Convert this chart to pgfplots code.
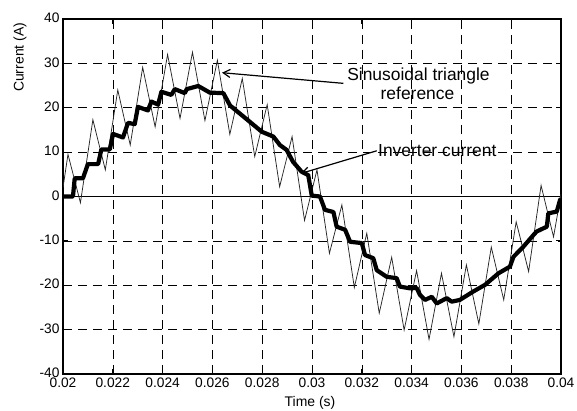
\documentclass[border=0pt]{standalone}
\usepackage{pgfplots}
\pgfplotsset{compat=1.18}
\usepackage{fontspec}
\setmainfont{Liberation Sans}
\usetikzlibrary{arrows.meta}
\begin{document}
\begin{tikzpicture}
\begin{axis}[
  at={(63bp,37bp)}, anchor=south west,
  scale only axis, width=498bp, height=355bp,
  xmin=0.02, xmax=0.04, ymin=-40, ymax=40,
  xtick={0.02,0.022,0.024,0.026,0.028,0.03,0.032,0.034,0.036,0.038,0.04},
  xticklabels={0.02,0.022,0.024,0.026,0.028,0.03,0.032,0.034,0.036,0.038,0.04},
  scaled x ticks=false,
  ytick={-40,-30,-20,-10,0,10,20,30,40},
  tick align=inside, major tick length=5bp,
  grid=major,
  major grid style={black, line width=0.6bp, dash pattern=on 9bp off 6bp},
  axis line style={line width=1.2bp},
  tick style={black, line width=0.8bp},
  tick label style={font=\fontsize{13.8}{16}\selectfont},
  yticklabel style={yshift=1bp},
  /pgf/number format/assume math mode=true,
  xlabel={Time (s)}, ylabel={Current (A)},
  label style={font=\fontsize{14}{16}\selectfont},
  xlabel style={at={(axis description cs:0.496,-0.0817)}, anchor=center},
  ylabel style={at={(axis description cs:-0.0863,0.892)}, anchor=center},
]
% zero line
\addplot[black, line width=1.2bp] coordinates {(0.02,0) (0.04,0)};
% sinusoidal triangle reference
\addplot[black!85, line width=0.75bp] coordinates {
(0.0200,2.0)
(0.0202,9.5) (0.0207,-1.4)
(0.0212,17.3) (0.0217,6.0)
(0.0222,24.0) (0.0227,11.6)
(0.0232,29.1) (0.0237,15.7)
(0.0242,32.0) (0.0247,17.6)
(0.0252,32.5) (0.0257,17.1)
(0.0262,30.7) (0.0267,14.0)
(0.0272,26.6) (0.0277,9.0)
(0.0282,20.7) (0.0287,2.2)
(0.0292,13.5) (0.0297,-5.4)
(0.0302,6.0) (0.0307,-12.8)
(0.0312,-1.9) (0.0317,-20.5)
(0.0322,-8.3) (0.0327,-26.3)
(0.0332,-13.7) (0.0337,-30.1)
(0.0342,-16.7) (0.0347,-32.2)
(0.0352,-17.3) (0.0357,-31.6)
(0.0362,-15.4) (0.0367,-28.7)
(0.0372,-11.4) (0.0377,-23.3)
(0.0382,-5.7) (0.0387,-16.9)
(0.0392,2.5) (0.0397,-9.1)
(0.0400,0.5)
};
% inverter current
\addplot[black, line width=4.2bp, line join=round] coordinates {
(0.02000,0) (0.02040,0) (0.02047,4.1) (0.02080,4.1)
(0.02100,7.3) (0.02141,7.3) (0.02154,10.6) (0.02188,10.6)
(0.02201,14.1) (0.02241,13.3) (0.02261,16.6) (0.02288,16.3)
(0.02301,20.2) (0.02341,19.4) (0.02355,21.4) (0.02382,20.7)
(0.02395,23.6) (0.02435,22.9) (0.02449,24.2) (0.02489,23.3)
(0.02497,24.2) (0.02543,24.9) (0.02590,23.4) (0.02644,23.3)
(0.02671,20.5) (0.02738,17.4) (0.02798,14.6) (0.02845,13.5)
(0.02871,11.6) (0.02898,10.5) (0.02924,7.8) (0.02958,5.6)
(0.02985,4.8) (0.02999,0.2) (0.03032,0) (0.03052,-3.0)
(0.03086,-3.5) (0.03099,-6.8) (0.03133,-7.5) (0.03153,-10.2)
(0.03200,-10.5) (0.03213,-13.2) (0.03246,-13.9) (0.03260,-16.6)
(0.03300,-18.1) (0.03340,-18.4) (0.03353,-20.3) (0.03394,-20.7)
(0.03420,-20.6) (0.03434,-22.2) (0.03454,-23.3) (0.03481,-22.6)
(0.03501,-24.1) (0.03541,-22.9) (0.03561,-23.7) (0.03594,-23.3)
(0.03648,-21.4) (0.03695,-19.9) (0.03749,-17.3) (0.03795,-15.8)
(0.03809,-13.6) (0.03849,-11.3) (0.03889,-8.7) (0.03902,-7.9)
(0.03943,-6.8) (0.03949,-3.8) (0.03983,-3.4) (0.03996,-0.8)
(0.04000,-0.5)
};
% annotations
\node[anchor=base, inner sep=0pt, font=\fontsize{17.5}{20}\selectfont] at (axis cs:0.034277,26.25) {Sinusoidal triangle};
\node[anchor=base, inner sep=0pt, font=\fontsize{17.5}{20}\selectfont] at (axis cs:0.034237,21.9) {reference};
\node[anchor=base west, inner sep=0pt, font=\fontsize{17.5}{20}\selectfont] at (axis cs:0.03265,8.97) {Inverter current};
\draw[line width=1.2bp, -{Straight Barb[length=7bp,width=8bp]}] (axis cs:0.031257,25.5) -- (axis cs:0.026386,27.9);
\draw[line width=1.2bp, -{Straight Barb[length=7bp,width=8bp]}] (axis cs:0.032598,10.3) -- (axis cs:0.029558,5.2);
\end{axis}
\pgfresetboundingbox
\useasboundingbox (0,0) rectangle (577bp,411bp);
\end{tikzpicture}
\end{document}
